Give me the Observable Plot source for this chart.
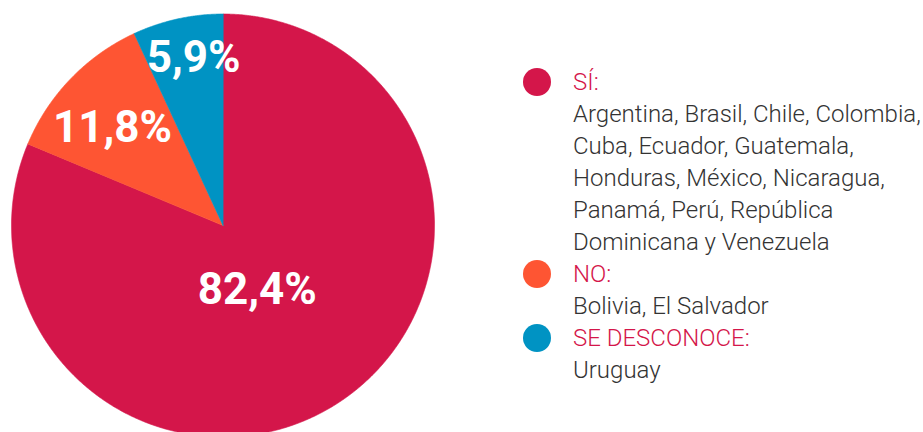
<!DOCTYPE html>
<html><head><meta charset="utf-8">
<script src="https://cdn.jsdelivr.net/npm/d3@7"></script>
<script src="https://cdn.jsdelivr.net/npm/@observablehq/plot@0.6"></script>
<style>
html,body{margin:0;padding:0;background:#fff;}
#wrap{position:relative;width:923px;height:432px;overflow:hidden;font-family:Roboto,"Noto Sans",sans-serif;}
#chart{position:absolute;left:0;top:0;}
#chart svg{overflow:hidden;}
#legend{position:absolute;left:523px;top:66px;width:400px;}
.item{position:relative;padding-left:50px;}
.dot{position:absolute;left:0;top:2px;width:28px;height:28px;border-radius:50%;}
.line{font-size:24px;line-height:32px;white-space:nowrap;font-weight:300;color:#333;}
.head{color:#d4164a;}
</style></head><body>
<div id="wrap"><div id="chart"></div><div id="legend"></div></div>
<script>
const categories = ["SÍ:", "NO:", "SE DESCONOCE:"];
// slice sizes as drawn in the picture (percent of the circle)
const sliceShares = [81.3, 11.8, 6.9];
const valueLabels = ["82,4%", "11,8%", "5,9%"];
const countryLines = [
  ["Argentina, Brasil, Chile, Colombia,", "Cuba, Ecuador, Guatemala,", "Honduras, México, Nicaragua,", "Panamá, Perú, República", "Dominicana y Venezuela"],
  ["Bolivia, El Salvador"],
  ["Uruguay"]
];
const colors = ["#d4164a", "#fe5533", "#0093c3"];
// label placement inside each slice: radius (fraction of R) and position along the slice's arc
const labelRadius = [0.344, 0.698, 0.806];
const labelTurn = [0.519, 0.445, 0.60];

const arcs = d3.pie().sort(null).value(d => d)(sliceShares);
const wedgePts = [];
arcs.forEach((a, i) => {
  const cat = categories[i];
  wedgePts.push({cat, x: 0, y: 0});
  const n = Math.max(4, Math.ceil((a.endAngle - a.startAngle) / 0.005));
  for (let k = 0; k <= n; k++) {
    const t = a.startAngle + (a.endAngle - a.startAngle) * k / n;
    wedgePts.push({cat, x: Math.sin(t), y: Math.cos(t)});
  }
});
const labelPts = arcs.map((a, i) => {
  const m = a.startAngle + (a.endAngle - a.startAngle) * labelTurn[i];
  return {label: valueLabels[i], x: labelRadius[i] * Math.sin(m), y: labelRadius[i] * Math.cos(m)};
});

const chart = Plot.plot({
  width: 923,
  height: 432,
  margin: 0,
  x: {domain: [-1, 1], range: [11, 434], axis: null},
  y: {domain: [-1, 1], range: [436.5, 13.5], axis: null},
  color: {domain: categories, range: colors},
  style: {fontFamily: "Roboto, sans-serif", background: "transparent"},
  marks: [
    Plot.line(wedgePts, {x: "x", y: "y", z: "cat", fill: "cat", stroke: "cat", strokeWidth: 0.6, curve: "linear-closed"}),
    Plot.text(labelPts, {x: "x", y: "y", text: "label", fill: "white", fontSize: 44, fontWeight: "bold", textAnchor: "middle"})
  ]
});
document.getElementById("chart").appendChild(chart);

const legend = document.getElementById("legend");
categories.forEach((c, i) => {
  const item = document.createElement("div");
  item.className = "item";
  const dot = document.createElement("div");
  dot.className = "dot";
  dot.style.background = colors[i];
  item.appendChild(dot);
  const h = document.createElement("div");
  h.className = "line head";
  h.textContent = c;
  item.appendChild(h);
  countryLines[i].forEach(t => {
    const l = document.createElement("div");
    l.className = "line";
    l.textContent = t;
    item.appendChild(l);
  });
  legend.appendChild(item);
});
</script>
</body></html>
